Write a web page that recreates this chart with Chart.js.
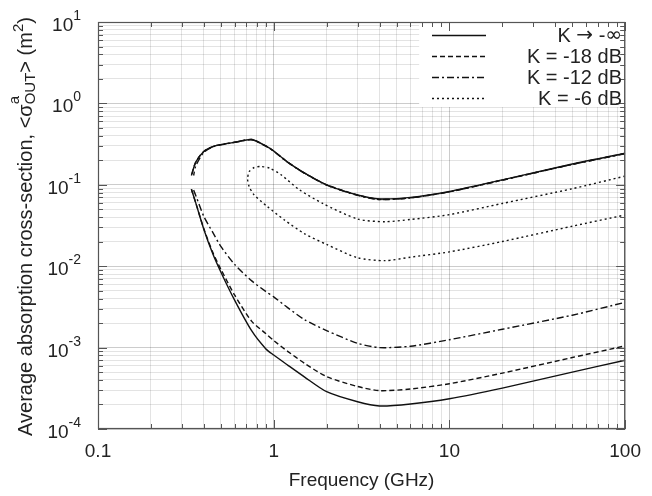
<!DOCTYPE html>
<html>
<head>
<meta charset="utf-8">
<script src="https://cdn.jsdelivr.net/npm/chart.js@4.4.0/dist/chart.umd.min.js"></script>
<style>
  html, body { margin: 0; padding: 0; background: #fff; }
  #wrap { width: 652px; height: 496px; }
</style>
</head>
<body>
<div id="wrap"><canvas id="sigmaChart" width="652" height="496"></canvas></div>
<script>
// frequency grid (GHz) for the K -> -inf and K = -18 dB branches
const freqMain = [0.34, 0.36, 0.4, 0.45, 0.5, 0.6, 0.75, 0.9, 1, 1.2, 1.5, 2, 3, 4, 6, 10, 20, 50, 100];
// K = -12 dB starts a little later
const freqK12 = [0.35, 0.36, 0.4, 0.45, 0.5, 0.6, 0.75, 0.9, 1, 1.2, 1.5, 2, 3, 4, 6, 10, 20, 50, 100];
// K = -6 dB is a closed loop
const freqK6Upper = [0.71, 0.725, 0.77, 0.84, 0.95, 1.1, 1.4, 1.9, 3, 4.3, 6, 10, 20, 50, 100];
const freqK6Lower = [0.71, 0.725, 0.77, 0.92, 1.15, 1.5, 2, 3, 4.3, 6, 10, 20, 50, 100];

// <sigma_OUT^a> (m^2), upper and lower branches
const infUpper = [0.13, 0.19, 0.257, 0.295, 0.312, 0.333, 0.36, 0.30, 0.26, 0.19, 0.139, 0.10, 0.075, 0.067, 0.070, 0.083, 0.115, 0.18, 0.244];
const infLower = [0.088, 0.060, 0.0285, 0.0142, 0.0085, 0.0038, 0.0016, 0.00097, 0.00081, 0.00061, 0.000434, 0.000287, 0.000216, 0.000192, 0.000203, 0.000235, 0.000318, 0.0005, 0.0007];
const k18Upper = [0.13, 0.19, 0.257, 0.295, 0.312, 0.333, 0.36, 0.30, 0.26, 0.19, 0.139, 0.10, 0.075, 0.066, 0.069, 0.082, 0.114, 0.178, 0.242];
const k18Lower = [0.088, 0.060, 0.029, 0.0148, 0.0092, 0.0044, 0.0021, 0.00149, 0.00122, 0.0009, 0.00064, 0.00044, 0.000333, 0.000296, 0.00031, 0.00036, 0.000486, 0.000755, 0.00105];
const k12Upper = [0.13, 0.17, 0.25, 0.293, 0.31, 0.332, 0.358, 0.298, 0.258, 0.189, 0.138, 0.099, 0.074, 0.066, 0.069, 0.082, 0.114, 0.178, 0.242];
const k12Lower = [0.086, 0.074, 0.041, 0.026, 0.0175, 0.0105, 0.0066, 0.0049, 0.0042, 0.0031, 0.0022, 0.00162, 0.00113, 0.001, 0.00104, 0.00125, 0.00168, 0.0025, 0.0036];
const k6Upper = [0.118, 0.145, 0.162, 0.168, 0.16, 0.133, 0.087, 0.059, 0.038, 0.0352, 0.0375, 0.043, 0.059, 0.0895, 0.128];
const k6Lower = [0.118, 0.095, 0.076, 0.054, 0.037, 0.025, 0.0185, 0.0127, 0.0117, 0.0129, 0.015, 0.0201, 0.031, 0.0426];

const seriesNames = ['K \u2192 -\u221E', 'K = -18 dB', 'K = -12 dB', 'K = -6 dB'];
const xDecades = [0.1, 1, 10, 100];
const xTickLabels = ['0.1', '1', '10', '100'];
const yExponents = [-4, -3, -2, -1, 0, 1];

const FONT = '"Liberation Sans", Arial, Helvetica, sans-serif';
const SYMFONT = '"DejaVu Sans", sans-serif';
const INK = '#222';

// upper branch right->left, then lower branch left->right
function loopPoints(fu, vu, fl, vl, closed) {
    const up = fu.map((f, i) => ({ x: f, y: vu[i] })).reverse();
    const low = fl.map((f, i) => ({ x: f, y: vl[i] }));
    if (closed) return up.concat(low.slice(1));
    return up.concat([{ x: fl[0], y: null }], low);
}

function gridValues(decades) {
    const out = [];
    decades.forEach((d, i) => {
        const steps = i === decades.length - 1 ? 1 : 9;
        for (let k = 1; k <= steps; k++) out.push(d * k);
    });
    return out;
}
const xGrid = gridValues(xDecades);
const yGrid = gridValues(yExponents.map(e => Math.pow(10, e)));

function isDecade(v) {
    const l = Math.log10(v);
    return Math.abs(l - Math.round(l)) < 1e-6;
}

const lineStyle = {
    borderColor: '#111',
    borderWidth: 1.4,
    pointRadius: 0,
    showLine: true,
    fill: false,
    tension: 0.25,
    spanGaps: false
};

const datasets = [
    Object.assign({ label: seriesNames[0], data: loopPoints(freqMain, infUpper, freqMain, infLower, false), borderDash: [] }, lineStyle),
    Object.assign({ label: seriesNames[1], data: loopPoints(freqMain, k18Upper, freqMain, k18Lower, false), borderDash: [5, 3] }, lineStyle),
    Object.assign({ label: seriesNames[2], data: loopPoints(freqK12, k12Upper, freqK12, k12Lower, false), borderDash: [7, 3, 2, 3] }, lineStyle),
    Object.assign({ label: seriesNames[3], data: loopPoints(freqK6Upper, k6Upper, freqK6Lower, k6Lower, true), borderDash: [2, 3] }, lineStyle)
];

// right-aligned text, arrow and infinity taken from DejaVu
function fillMixedRight(ctx, text, rightX, y, size) {
    const parts = Array.from(text).map(ch => ({
        ch: ch,
        f: (ch === '\u2192' || ch === '\u221E') ? size + 'px ' + SYMFONT : size + 'px ' + FONT
    }));
    let w = 0;
    parts.forEach(p => { ctx.font = p.f; p.w = ctx.measureText(p.ch).width; w += p.w; });
    let x = rightX - w;
    ctx.textAlign = 'left';
    parts.forEach(p => { ctx.font = p.f; ctx.fillText(p.ch, x, y); x += p.w; });
}

// frame, inside ticks, y labels, y title and legend
const decorPlugin = {
    id: 'decor',
    afterDraw(chart) {
        const ctx = chart.ctx;
        const { left, right, top, bottom } = chart.chartArea;
        const xs = chart.scales.x, ys = chart.scales.y;
        ctx.save();

        // legend background
        const lgLeft = right - 206, lgBottom = top + 85;
        ctx.fillStyle = '#fff';
        ctx.fillRect(lgLeft, top, right - lgLeft, lgBottom - top);

        // frame
        ctx.strokeStyle = '#555';
        ctx.lineWidth = 1.2;
        ctx.strokeRect(left + 0.5, top + 0.5, right - left - 1, bottom - top - 1);

        // inside ticks
        ctx.lineWidth = 1;
        ctx.beginPath();
        xGrid.forEach(v => {
            const px = Math.round(xs.getPixelForValue(v)) + 0.5;
            const len = isDecade(v) ? 9 : 5;
            ctx.moveTo(px, bottom); ctx.lineTo(px, bottom - len);
            ctx.moveTo(px, top); ctx.lineTo(px, top + len);
        });
        yGrid.forEach(v => {
            const py = Math.round(ys.getPixelForValue(v)) + 0.5;
            const len = isDecade(v) ? 9 : 5;
            ctx.moveTo(left, py); ctx.lineTo(left + len, py);
            ctx.moveTo(right, py); ctx.lineTo(right - len, py);
        });
        ctx.stroke();

        // y tick labels 10^e
        ctx.fillStyle = INK;
        ctx.textBaseline = 'alphabetic';
        yExponents.forEach(e => {
            const py = ys.getPixelForValue(Math.pow(10, e));
            const ex = String(e);
            ctx.font = '14px ' + FONT;
            const ew = ctx.measureText(ex).width;
            ctx.textAlign = 'left';
            ctx.fillText(ex, 81 - ew, py - 2);
            ctx.font = '19px ' + FONT;
            ctx.textAlign = 'right';
            ctx.fillText('10', 81 - ew, py + 9);
        });

        // y title, rotated
        drawYTitle(ctx, 32, (top + bottom) / 2 + 1);

        // legend
        const rows = [35, 56, 77, 98];
        datasets.forEach((ds, i) => {
            const y = rows[i] + 0.5;
            ctx.strokeStyle = ds.borderColor;
            ctx.lineWidth = ds.borderWidth;
            ctx.setLineDash(ds.borderDash);
            ctx.beginPath();
            ctx.moveTo(432, y); ctx.lineTo(486, y);
            ctx.stroke();
            ctx.setLineDash([]);
            ctx.textBaseline = 'middle';
            ctx.fillStyle = INK;
            fillMixedRight(ctx, ds.label, 622, rows[i] + 1, 20);
        });
        ctx.restore();
    }
};

function drawYTitle(ctx, baseX, centerY) {
    const big = '20px ' + FONT, small = '15px ' + FONT;
    const pieces = [
        { t: 'Average absorption cross-section, <\u03C3', f: big, dy: 0 },
        { stack: [{ t: 'a', f: small, dy: -13 }, { t: 'OUT', f: small, dy: 3 }] },
        { t: '> (m', f: big, dy: 0 },
        { t: '2', f: small, dy: -9 },
        { t: ')', f: big, dy: 0 }
    ];
    let total = 0;
    pieces.forEach(p => {
        if (p.stack) {
            p.w = Math.max(...p.stack.map(s => { ctx.font = s.f; return ctx.measureText(s.t).width; }));
        } else {
            ctx.font = p.f;
            p.w = ctx.measureText(p.t).width;
        }
        total += p.w;
    });
    ctx.save();
    ctx.translate(baseX, centerY);
    ctx.rotate(-Math.PI / 2);
    ctx.fillStyle = INK;
    ctx.textAlign = 'left';
    ctx.textBaseline = 'alphabetic';
    let x = -total / 2;
    pieces.forEach(p => {
        const items = p.stack ? p.stack : [p];
        items.forEach(s => { ctx.font = s.f; ctx.fillText(s.t, x, s.dy); });
        x += p.w;
    });
    ctx.restore();
}

new Chart(document.getElementById('sigmaChart'), {
    type: 'scatter',
    data: { datasets: datasets },
    options: {
        responsive: false,
        animation: false,
        events: [],
        layout: { padding: { top: 22, right: 18, left: 0, bottom: 0 } },
        plugins: {
            legend: { display: false },
            tooltip: { enabled: false }
        },
        scales: {
            x: {
                type: 'logarithmic',
                min: 0.1,
                max: 100,
                position: 'bottom',
                afterBuildTicks: s => { s.ticks = xGrid.map(v => ({ value: v })); },
                afterFit: s => { s.height = 67; },
                border: { display: false },
                grid: {
                    drawTicks: false,
                    color: c => isDecade(c.tick.value) ? 'rgba(0,0,0,0.2)' : 'rgba(0,0,0,0.11)',
                    lineWidth: 1
                },
                ticks: {
                    autoSkip: false,
                    maxRotation: 0,
                    padding: 11,
                    color: INK,
                    font: { family: FONT, size: 19 },
                    callback: v => {
                        const i = xDecades.findIndex(d => Math.abs(d - v) < 1e-9);
                        return i >= 0 ? xTickLabels[i] : '';
                    }
                },
                title: {
                    display: true,
                    text: 'Frequency (GHz)',
                    color: INK,
                    font: { family: FONT, size: 19 },
                    padding: { top: 0, bottom: 4 }
                }
            },
            y: {
                type: 'logarithmic',
                min: 1e-4,
                max: 10,
                afterBuildTicks: s => { s.ticks = yGrid.map(v => ({ value: v })); },
                afterFit: s => { s.width = 98; },
                border: { display: false },
                grid: {
                    drawTicks: false,
                    color: c => isDecade(c.tick.value) ? 'rgba(0,0,0,0.2)' : 'rgba(0,0,0,0.11)',
                    lineWidth: 1
                },
                ticks: { display: false }
            }
        }
    },
    plugins: [decorPlugin]
});
</script>
</body>
</html>
